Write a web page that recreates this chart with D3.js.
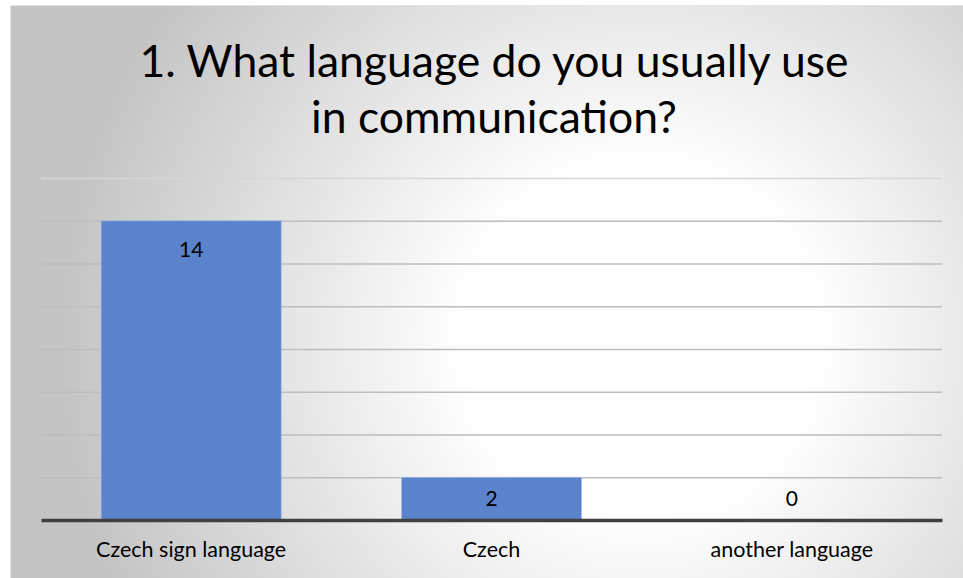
<!DOCTYPE html>
<html>
<head>
<meta charset="utf-8">
<script src="https://cdn.jsdelivr.net/npm/d3@7"></script>
<style>
  html, body { margin: 0; padding: 0; background: #ffffff; }
  svg { display: block; }
  text { font-family: Lato, "Open Sans", sans-serif; fill: #000; }
</style>
</head>
<body>
<svg id="chart" width="963" height="578"></svg>
<script>
// Survey question 1 – language used in communication
const titleLines = ["1. What language do you usually use", "in communication?"];
const categories = ["Czech sign language", "Czech", "another language"];
const counts = [14, 2, 0];
const yTicks = [0, 2, 4, 6, 8, 10, 12, 14, 16];

const W = 963, H = 578;
const svg = d3.select("#chart");

// Chart frame with a soft radial fill
const defs = svg.append("defs");
const grad = defs.append("radialGradient")
  .attr("id", "bg").attr("gradientUnits", "userSpaceOnUse")
  .attr("cx", 640).attr("cy", 340).attr("r", 580);
grad.append("stop").attr("offset", 0).attr("stop-color", "#ffffff");
grad.append("stop").attr("offset", 0.3).attr("stop-color", "#ffffff");
grad.append("stop").attr("offset", 1).attr("stop-color", "#c4c4c4");

svg.append("rect")
  .attr("x", 10.5).attr("y", 5.5).attr("width", W).attr("height", H)
  .attr("fill", "url(#bg)").attr("stroke", "#e4e4e4").attr("stroke-width", 1);

const plot = { left: 41, right: 942, top: 178, bottom: 520 };

const x = d3.scaleBand()
  .domain(categories)
  .range([plot.left, plot.right])
  .paddingInner(0.4)
  .paddingOuter(0.2);

const y = d3.scaleLinear()
  .domain([0, d3.max(yTicks)])
  .range([plot.bottom, plot.top]);

// Horizontal gridlines
const yAxis = d3.axisLeft(y)
  .tickValues(yTicks.filter(t => t > 0))
  .tickSize(-(plot.right - plot.left))
  .tickFormat("");
const gGrid = svg.append("g")
  .attr("transform", `translate(${plot.left},0)`)
  .call(yAxis);
gGrid.select(".domain").remove();
gGrid.selectAll(".tick line")
  .attr("stroke", d => d === d3.max(yTicks) ? "#d6d6d6" : "#bdbdbd")
  .attr("stroke-width", 1.3);

// Bars
svg.append("g").selectAll("rect")
  .data(categories.map((c, i) => ({ c, v: counts[i] })))
  .join("rect")
  .attr("x", d => x(d.c))
  .attr("y", d => y(d.v))
  .attr("width", x.bandwidth())
  .attr("height", d => y(0) - y(d.v))
  .attr("fill", "#5b83cb")
  .attr("stroke", "#a9bfe6")
  .attr("stroke-width", 0.8);

// Category axis
const xAxis = d3.axisBottom(x).tickSize(0).tickPadding(22);
const gX = svg.append("g")
  .attr("transform", `translate(0,${y(0)})`)
  .call(xAxis);
gX.select(".domain").attr("stroke", "#404040").attr("stroke-width", 3.5);
gX.selectAll(".tick text")
  .style("font-family", "Lato, sans-serif")
  .attr("font-size", 21.5)
  .attr("fill", "#000");

// Value labels
svg.append("g").selectAll("text")
  .data(categories.map((c, i) => ({ c, v: counts[i] })))
  .join("text")
  .attr("x", d => x(d.c) + x.bandwidth() / 2)
  .attr("y", d => Math.min(y(d.v) + 28, y(0) - 23))
  .attr("text-anchor", "middle")
  .attr("dominant-baseline", "central")
  .attr("font-size", 21)
  .text(d => d.v);

// Title
svg.append("g").selectAll("text")
  .data(titleLines)
  .join("text")
  .attr("x", 494)
  .attr("y", (d, i) => 77 + i * 56)
  .attr("text-anchor", "middle")
  .attr("font-size", 44.5)
  .text(d => d);
</script>
</body>
</html>
